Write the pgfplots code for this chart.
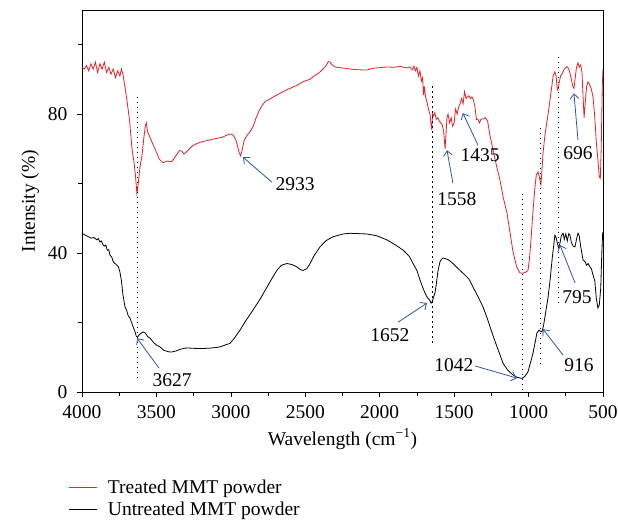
\documentclass[border=0pt]{standalone}
\usepackage{pgfplots}
\pgfplotsset{compat=1.18}
\usepackage{fontspec}
\setmainfont{Liberation Serif}
\usetikzlibrary{arrows.meta}
\definecolor{specred}{RGB}{237,30,36}
\definecolor{annblue}{RGB}{45,85,175}
\newcommand{\chartfont}{\fontsize{19.5}{23}\selectfont}
\begin{document}
\begin{tikzpicture}
\path[use as bounding box] (-82pt,-134pt) rectangle (536pt,392pt);
\begin{axis}[
  scale only axis,
  width=521pt, height=382pt,
  at={(0,0)}, anchor=south west,
  x dir=reverse,
  xmin=500, xmax=4000,
  ymin=0, ymax=110,
  xtick={500,1000,...,4000},
  minor xtick={750,1250,...,3750},
  ytick={0,40,80},
  minor ytick={20,60,100},
  tick align=outside,
  xtick pos=bottom, ytick pos=left,
  major tick length=5pt, minor tick length=4pt,
  every tick/.style={black, line width=0.6pt},
  axis line style={line width=0.8pt},
  /pgf/number format/assume math mode=true,
  /pgf/number format/set thousands separator={},
  tick label style={font=\chartfont},
  xticklabel style={yshift=-5pt},
  yticklabel style={xshift=-6pt},
  label style={font=\chartfont},
  xlabel={Wavelength (cm\textsuperscript{−1})},
  xlabel style={yshift=-3pt},
  ylabel={Intensity (\%)},
  ylabel shift=2pt,
  legend style={draw=none, fill=none, at={(axis description cs:0,0)}, anchor=north west,
    xshift=-17pt, yshift=-84pt, font=\chartfont,
    row sep=3pt,
    /tikz/every odd column/.append style={column sep=9pt}},
  legend cell align=left,
  legend image code/.code={\draw[#1] (0pt,0pt) -- (28pt,0pt);},
]
% Treated MMT powder (red)
\addplot[specred, line width=0.8pt] coordinates {
(4000,93.5)(3985,93)(3970,94)(3955,92.5)(3940,94.5)(3925,93)(3910,95)(3895,92)(3880,94.5)(3865,93)
(3850,95)(3835,92)(3820,93.5)(3805,91.5)(3790,93)(3775,90.5)(3760,92.5)(3745,91)(3735,93)(3725,91.5)
(3712,88)(3698,84)(3680,78)(3664,70)(3650,66)(3640,62)(3631,57)(3622,60)(3610,65)(3597,68)
(3585,73)(3575,76.5)(3568,77.5)(3560,75)(3550,74)(3540,73)(3520,71)(3500,69)(3480,67)(3456,66)
(3430,66.5)(3400,66.3)(3389,66.8)(3370,68)(3345,69.5)(3330,69.4)(3315,68.5)(3290,69.5)(3260,70.8)(3230,71.5)
(3200,72)(3150,72.5)(3100,73)(3060,73.3)(3026,74)(3000,74.3)(2985,74)(2965,72.5)(2945,69)(2935,68)
(2925,69.5)(2910,72.5)(2890,74)(2870,75)(2850,76.5)(2830,79)(2810,81)(2790,82.5)(2770,83.6)(2700,85.3)
(2640,86.7)(2600,87.5)(2560,88.2)(2530,89)(2500,89.6)(2470,90)(2440,91)(2410,91.8)(2381,93)(2360,94)
(2345,95.2)(2334,95)(2320,94.2)(2300,93.6)(2267,93.4)(2200,93)(2150,92.8)(2086,92.7)(2050,93.2)(2000,93.4)
(1950,93.6)(1900,93.5)(1864,93.8)(1820,93.3)(1800,93.6)(1780,92.8)(1770,93.8)(1760,92.5)(1750,93.5)(1740,91)
(1730,92.5)(1720,89.5)(1712,90.5)(1705,85.5)(1700,88)(1692,85)(1680,83)(1670,81)(1662,80)(1655,77)
(1650,75.5)(1645,80)(1638,79.5)(1630,80.5)(1620,78.5)(1610,79)(1600,78)(1590,77.5)(1580,77)(1570,75)
(1561,70)(1555,74)(1548,79)(1541,80)(1530,77.5)(1520,79)(1510,76.5)(1500,77.5)(1490,81.5)(1480,80)
(1470,82)(1460,83)(1450,84.5)(1440,83)(1430,86.5)(1420,84.5)(1410,85)(1400,85.3)(1390,84.5)(1380,85)
(1370,84)(1360,82)(1350,78.5)(1340,78.5)(1330,77.5)(1320,78.5)(1300,78.7)(1290,79)(1275,78)(1260,74)
(1240,70)(1220,66)(1192,61)(1170,56)(1145,51.5)(1125,46)(1105,40.5)(1080,36)(1058,34.3)(1040,34.2)
(1020,34.5)(1004,35)(995,38)(985,43)(977,48)(965,55)(957,59)(948,62.5)(937,63.4)(928,62)
(917,59.6)(910,64)(903,68.7)(890,74)(869,80)(850,86)(835,91)(823,92.2)(815,91)(808,87.5)
(803,86.9)(795,89)(785,91)(776,91.5)(760,93)(742,93.7)(730,93)(722,91.8)(712,90)(703,88)
(695,87.4)(688,90)(678,93.5)(668,94.8)(660,93.5)(650,94.2)(641,92)(635,86)(627,79)(620,83)
(610,88)(601,89.3)(590,88.5)(580,87.5)(567,85)(555,79)(545,72)(534,66.8)(525,62)(518,61.5)
(512,70)(505,88)(500,93)
};
\addlegendentry{Treated MMT powder}
% Untreated MMT powder (black)
\addplot[black, line width=0.8pt] coordinates {
(4000,45.7)(3980,45.2)(3960,44.8)(3940,44.3)(3920,44.5)(3900,43.8)(3890,44.2)(3880,43.2)(3870,43.5)(3860,42.5)
(3850,42)(3840,42.3)(3830,40.8)(3820,41)(3812,39.4)(3800,38.8)(3790,37.5)(3778,37)(3765,36.5)(3755,36)
(3745,34.5)(3735,32)(3725,28)(3711,24.5)(3700,23.5)(3690,22)(3678,21.3)(3665,19.8)(3657,18.8)(3645,17.5)
(3635,16)(3627,15.8)(3615,16.5)(3600,17)(3590,17.3)(3575,17)(3560,16)(3543,15.5)(3520,14.3)(3500,13.5)
(3476,13)(3450,12)(3420,11.6)(3400,11.5)(3370,11.8)(3340,12.3)(3300,12.7)(3260,12.6)(3207,12.5)(3150,12.6)
(3100,12.8)(3073,13)(3040,13.5)(3006,14)(2980,15.3)(2960,16.5)(2939,17.8)(2900,20.5)(2851,23.6)(2800,27)
(2757,30.2)(2720,33)(2690,35.1)(2660,36.5)(2623,37)(2590,36.7)(2556,36)(2530,35.2)(2515,35)(2490,35.5)
(2468,37)(2440,39.3)(2401,41.8)(2360,43.6)(2313,44.7)(2247,45.5)(2200,45.7)(2140,45.6)(2086,45.5)(2020,45)
(1952,43.8)(1900,42.5)(1844,40.9)(1800,39)(1776,37)(1750,35)(1729,32.2)(1710,30)(1696,28.5)(1680,27.2)
(1665,26.5)(1655,25.6)(1648,26)(1640,27)(1629,28.5)(1620,31)(1608,35)(1595,37.5)(1585,38.2)(1575,38.6)
(1560,38.4)(1545,38.2)(1530,37.8)(1508,37)(1480,35.8)(1440,34.2)(1400,32.5)(1373,30.2)(1340,27.5)(1306,24.5)
(1280,21.5)(1259,18.8)(1235,15.8)(1212,13)(1190,10.5)(1172,8.3)(1140,6.3)(1105,4.9)(1075,4.2)(1044,3.9)
(1025,4.5)(1004,5.8)(990,8)(970,11.2)(955,14.5)(944,17)(930,17.8)(920,17.5)(910,17.3)(900,19)
(890,21.6)(870,27)(856,32)(840,39)(823,45.2)(815,44.5)(805,42.5)(797,41.5)(789,42.9)(780,45)
(768,45.7)(760,44)(750,45.5)(740,43.5)(730,45.6)(722,45.2)(712,43)(700,42)(688,41.8)(678,44)
(668,45.7)(660,45)(650,42)(640,39.5)(634,38)(620,37.5)(610,36.5)(600,37)(587,36)(578,35.5)
(567,33.7)(555,32)(545,27)(534,24.2)(525,25)(515,30)(508,40)(502,46)
};
\addlegendentry{Untreated MMT powder}
% dotted marker lines
\addplot[black, line width=1pt, dash pattern=on 1.2pt off 3.8pt, forget plot] coordinates {(3627,85)(3627,4)};
\addplot[black, line width=1pt, dash pattern=on 1.2pt off 3.8pt, forget plot] coordinates {(1645,88)(1645,13.5)};
\addplot[black, line width=1pt, dash pattern=on 1.2pt off 3.8pt, forget plot] coordinates {(1042,57)(1042,0.5)};
\addplot[black, line width=1pt, dash pattern=on 1.2pt off 3.8pt, forget plot] coordinates {(920,76)(920,7)};
\addplot[black, line width=1pt, dash pattern=on 1.2pt off 3.8pt, forget plot] coordinates {(797,96.5)(797,25.5)};
% annotations
\begin{scope}[annblue, line width=0.8pt, -{Straight Barb[length=5pt,width=9pt]}]
\draw (axis cs:2724,60.4) -- (axis cs:2918,67.6);
\draw (axis cs:1508,60.1) -- (axis cs:1548,69.6);
\draw (axis cs:1340,71.1) -- (axis cs:1441,80.3);
\draw (axis cs:668,72.5) -- (axis cs:695,86);
\draw (axis cs:3483,6.9) -- (axis cs:3630,15.5);
\draw (axis cs:1877,20.1) -- (axis cs:1682,25.6);
\draw (axis cs:1360,7.5) -- (axis cs:1078,4);
\draw (axis cs:768,10.6) -- (axis cs:903,18.1);
\draw (axis cs:688,31.4) -- (axis cs:789,42.3);
\end{scope}
\begin{scope}[every node/.style={font=\chartfont, inner sep=0pt}]
\node at (axis cs:2569,59.9) {2933};
\node at (axis cs:1481,55.5) {1558};
\node at (axis cs:1326,68.2) {1435};
\node at (axis cs:668,68.8) {696};
\node at (axis cs:3395,3.5) {3627};
\node at (axis cs:1931,16.4) {1652};
\node at (axis cs:1501,7.8) {1042};
\node at (axis cs:661,7.8) {916};
\node at (axis cs:675,27.3) {795};
\end{scope}
\end{axis}
\end{tikzpicture}
\end{document}
